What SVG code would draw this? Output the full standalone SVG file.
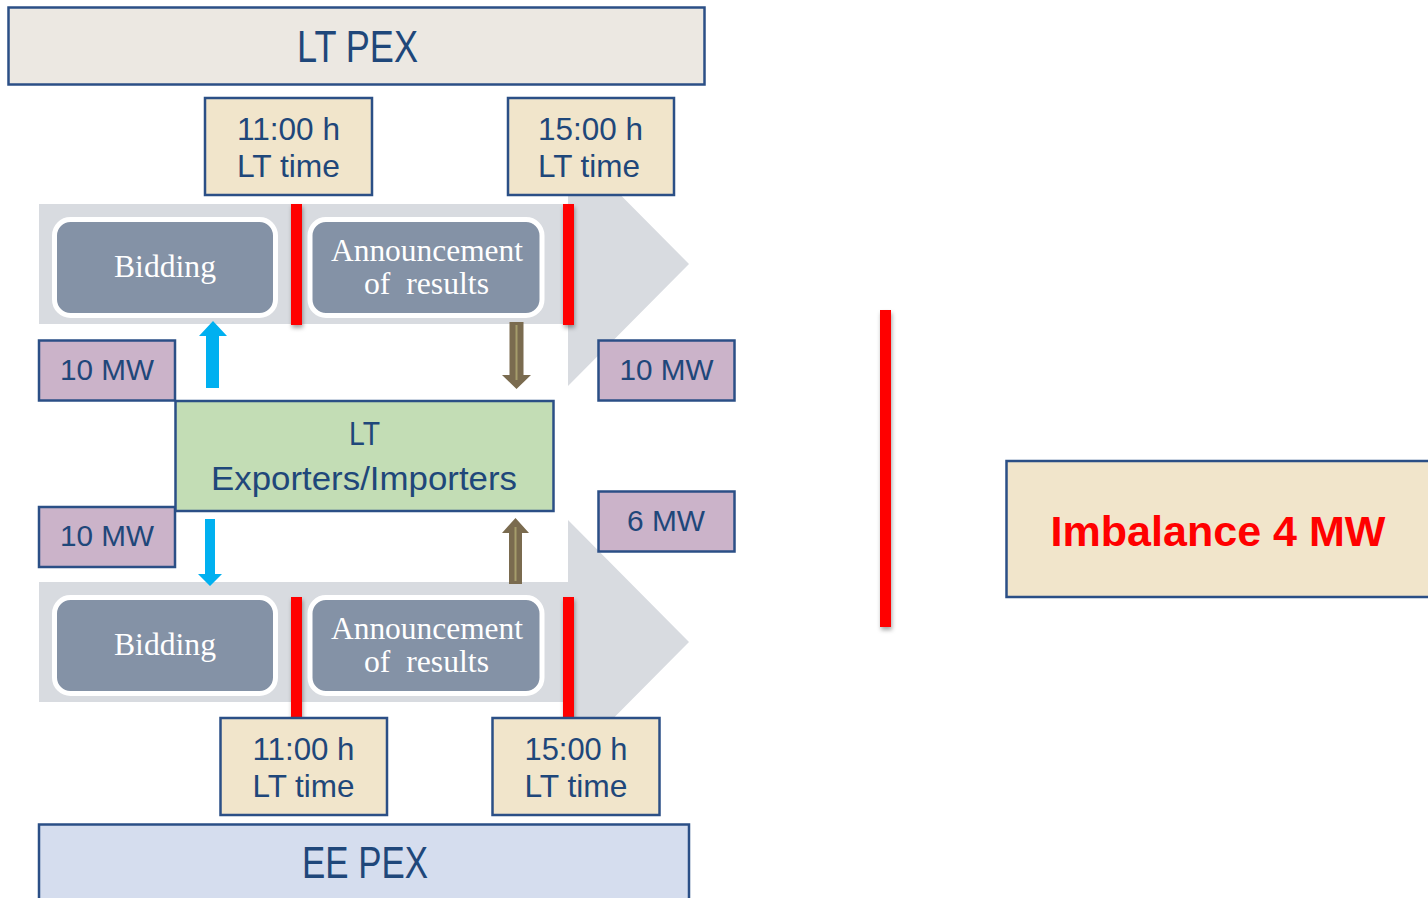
<svg xmlns="http://www.w3.org/2000/svg" width="1428" height="898" viewBox="0 0 1428 898">
<defs>
<style>
.blue{stroke:#2B4F86;stroke-width:2.5}
.sans{font-family:"Liberation Sans",Arial,sans-serif;fill:#1F477A}
.serif{font-family:"Liberation Serif","Times New Roman",serif;fill:#FFFFFF;font-size:32px;white-space:pre}
.band{fill:#D8DBE0}
.step{fill:#8492A6;stroke:#FFFFFF;stroke-width:5}
.red{fill:#FF0000;filter:url(#sh)}
.time{fill:#F1E5CB}
.mw{fill:#CBB3C9}
.bluearrow{fill:#00B0F0}
.brownarrow{fill:#7A6B4F}
</style>
<filter id="sh" x="-50%" y="-10%" width="200%" height="130%">
<feDropShadow dx="1" dy="3" stdDeviation="2" flood-color="#000" flood-opacity="0.35"/>
</filter>
</defs>
<rect width="1428" height="898" fill="#FFFFFF"/>

<g id="chevron-top">
<polygon class="band" points="39,204 568,204 568,142 689,264 568,386 568,324 39,324"/>
</g>
<g id="chevron-bottom">
<polygon class="band" points="39,582 568,582 568,520 689,642 568,764 568,702 39,702"/>
</g>

<g id="bidding-top">
<rect class="step" x="54.5" y="219.5" width="221" height="96" rx="16"/>
<text class="serif" x="165" y="277" text-anchor="middle" textLength="102" lengthAdjust="spacingAndGlyphs">Bidding</text>
</g>
<g id="announcement-top">
<rect class="step" x="310" y="219.5" width="232" height="96" rx="16"/>
<text class="serif" x="427" y="261" text-anchor="middle" textLength="192" lengthAdjust="spacingAndGlyphs">Announcement</text>
<text class="serif" x="426.5" y="294" text-anchor="middle" textLength="125" lengthAdjust="spacingAndGlyphs">of  results</text>
</g>
<g id="bidding-bottom">
<rect class="step" x="54.5" y="597.5" width="221" height="96" rx="16"/>
<text class="serif" x="165" y="655" text-anchor="middle" textLength="102" lengthAdjust="spacingAndGlyphs">Bidding</text>
</g>
<g id="announcement-bottom">
<rect class="step" x="310" y="597.5" width="232" height="96" rx="16"/>
<text class="serif" x="427" y="639" text-anchor="middle" textLength="192" lengthAdjust="spacingAndGlyphs">Announcement</text>
<text class="serif" x="426.5" y="672" text-anchor="middle" textLength="125" lengthAdjust="spacingAndGlyphs">of  results</text>
</g>

<g id="deadlines">
<rect class="red" x="291" y="204" width="11" height="121"/>
<rect class="red" x="563" y="204" width="11" height="121"/>
<rect class="red" x="291" y="597" width="11" height="121"/>
<rect class="red" x="563" y="597" width="11" height="121"/>
<rect class="red" x="880" y="310" width="11" height="317"/>
</g>

<g id="lt-pex">
<rect class="blue" x="8.5" y="7.5" width="696" height="77" fill="#ECE8E2"/>
<text class="sans" x="357.5" y="62" font-size="44" text-anchor="middle" textLength="121" lengthAdjust="spacingAndGlyphs">LT PEX</text>
</g>
<g id="ee-pex">
<rect class="blue" x="39" y="824.5" width="650" height="80" fill="#D5DDEE"/>
<text class="sans" x="365" y="878" font-size="44" text-anchor="middle" textLength="126" lengthAdjust="spacingAndGlyphs">EE PEX</text>
</g>

<g id="time-top-11">
<rect class="blue time" x="205" y="98" width="167" height="97"/>
<text class="sans" x="288.5" y="140" font-size="32" text-anchor="middle" textLength="103" lengthAdjust="spacingAndGlyphs">11:00 h</text>
<text class="sans" x="288.5" y="177" font-size="32" text-anchor="middle" textLength="103" lengthAdjust="spacingAndGlyphs">LT time</text>
</g>
<g id="time-top-15">
<rect class="blue time" x="508" y="98" width="166" height="97"/>
<text class="sans" x="590.5" y="140" font-size="32" text-anchor="middle" textLength="105" lengthAdjust="spacingAndGlyphs">15:00 h</text>
<text class="sans" x="589" y="177" font-size="32" text-anchor="middle" textLength="102" lengthAdjust="spacingAndGlyphs">LT time</text>
</g>
<g id="time-bottom-11">
<rect class="blue time" x="220.5" y="718" width="166.5" height="97"/>
<text class="sans" x="303.5" y="760" font-size="32" text-anchor="middle" textLength="102" lengthAdjust="spacingAndGlyphs">11:00 h</text>
<text class="sans" x="303.5" y="797" font-size="32" text-anchor="middle" textLength="102" lengthAdjust="spacingAndGlyphs">LT time</text>
</g>
<g id="time-bottom-15">
<rect class="blue time" x="492.5" y="718" width="167" height="97"/>
<text class="sans" x="576" y="760" font-size="32" text-anchor="middle" textLength="103" lengthAdjust="spacingAndGlyphs">15:00 h</text>
<text class="sans" x="576" y="797" font-size="32" text-anchor="middle" textLength="103" lengthAdjust="spacingAndGlyphs">LT time</text>
</g>

<g id="mw-top-left">
<rect class="blue mw" x="39" y="340.5" width="136" height="60"/>
<text class="sans" x="107" y="380" font-size="29" text-anchor="middle" textLength="94" lengthAdjust="spacingAndGlyphs">10 MW</text>
</g>
<g id="mw-top-right">
<rect class="blue mw" x="598.5" y="340.5" width="136" height="60"/>
<text class="sans" x="666.5" y="380" font-size="29" text-anchor="middle" textLength="94" lengthAdjust="spacingAndGlyphs">10 MW</text>
</g>
<g id="mw-bottom-left">
<rect class="blue mw" x="39" y="507" width="136" height="60"/>
<text class="sans" x="107" y="546" font-size="29" text-anchor="middle" textLength="94" lengthAdjust="spacingAndGlyphs">10 MW</text>
</g>
<g id="mw-bottom-right">
<rect class="blue mw" x="598.5" y="491.5" width="136" height="60"/>
<text class="sans" x="666" y="531" font-size="29" text-anchor="middle" textLength="78" lengthAdjust="spacingAndGlyphs">6 MW</text>
</g>

<g id="lt-exporters">
<rect class="blue" x="175.5" y="401" width="378" height="110" fill="#C3DDB5"/>
<text class="sans" x="364.5" y="445" font-size="33" text-anchor="middle" textLength="31" lengthAdjust="spacingAndGlyphs">LT</text>
<text class="sans" x="364" y="490" font-size="33" text-anchor="middle" textLength="306" lengthAdjust="spacingAndGlyphs">Exporters/Importers</text>
</g>

<g id="imbalance">
<rect class="blue" x="1006.5" y="461" width="430" height="136" fill="#F1E5CB"/>
<text x="1218" y="546" font-family="'Liberation Sans',Arial,sans-serif" font-weight="bold" font-size="43" fill="#FF0000" text-anchor="middle" textLength="335" lengthAdjust="spacingAndGlyphs">Imbalance 4 MW</text>
</g>

<g id="connectors">
<polygon class="bluearrow" points="206,388 219,388 219,336 227,336 213,321 199,336 206,336"/>
<polygon class="brownarrow" points="509.5,322 523.5,322 523.5,375 531,375 516.5,389 502,375 509.5,375"/>
<line x1="516.5" y1="325" x2="516.5" y2="380" stroke="#A59C6B" stroke-width="2"/>
<polygon class="bluearrow" points="205,519 215,519 215,574 222,574 210,586 198,574 205,574"/>
<polygon class="brownarrow" points="509,584 522,584 522,533 529,533 515.5,518 502,533 509,533"/>
<line x1="515.5" y1="581" x2="515.5" y2="527" stroke="#A59C6B" stroke-width="2"/>
</g>
</svg>
